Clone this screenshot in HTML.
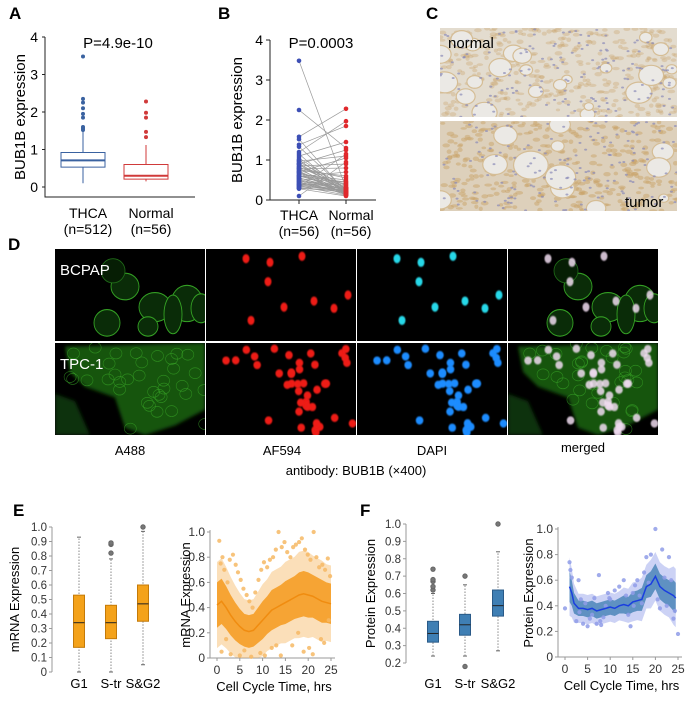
<!DOCTYPE html>
<html><head><meta charset="utf-8">
<style>
html,body{margin:0;padding:0;background:#fff;}
svg{display:block;font-family:"Liberation Sans",sans-serif;}
</style></head>
<body>
<svg id="fig" width="692" height="701" viewBox="0 0 692 701" xmlns="http://www.w3.org/2000/svg">
<defs>
<filter id="blur1"><feGaussianBlur stdDeviation="0.6"/></filter>
<filter id="blur2"><feGaussianBlur stdDeviation="1.5"/></filter>
</defs>
<g font-weight="bold" font-size="17" fill="#000">
<text x="9" y="19">A</text>
<text x="218" y="19">B</text>
<text x="426" y="19">C</text>
<text x="8" y="250">D</text>
<text x="13" y="516">E</text>
<text x="360" y="516">F</text>
</g>
<g id="panelA"></g>
<g id="panelB"></g>
<g id="panelC"></g>
<g id="panelD"></g>
<g id="panelE1"></g>
<g id="panelE2"></g>
<g id="panelF1"></g>
<g id="panelF2"></g>
</svg>
<script>
// ---------- DATA ----------
const aCategories = ["THCA", "Normal"];
const aCounts = ["(n=512)", "(n=56)"];
const aQ1 = [0.53, 0.21];
const aMedian = [0.71, 0.30];
const aQ3 = [0.92, 0.60];
const aWhiskLo = [0.10, 0.15];
const aWhiskHi = [1.48, 1.12];
const aOutTHCA = [1.52, 1.56, 1.60, 1.85, 1.95, 2.10, 2.25, 2.35, 3.48];
const aOutNormal = [1.33, 1.47, 1.85, 1.98, 2.28];
const aTicks = [0, 1, 2, 3, 4];
const bThca = [3.48,2.25,1.58,1.52,1.38,1.33,1.20,1.15,1.10,1.05,1.00,0.97,0.95,0.92,0.90,0.88,0.85,0.83,0.80,0.78,0.76,0.74,0.72,0.70,0.68,0.66,0.64,0.62,0.60,0.58,0.56,0.55,0.53,0.52,0.50,0.48,0.47,0.45,0.44,0.42,0.40,0.39,0.38,0.36,0.35,0.33,0.32,0.30,0.29,0.28,0.60,0.70,0.80,0.90,1.00,0.10];
const bNormal = [0.30,1.30,2.28,0.20,1.85,0.25,1.97,0.15,1.45,0.28,0.20,1.10,0.35,0.18,1.25,0.22,0.90,0.30,0.12,0.80,0.25,0.60,0.20,1.05,0.40,0.15,0.50,0.22,0.30,0.70,0.18,0.25,0.45,0.20,0.13,0.28,0.35,0.20,0.16,0.30,0.22,0.40,0.19,0.25,0.12,1.15,0.30,0.20,0.25,0.10,0.45,0.15,0.55,0.30,0.20,0.95];
const eCategories = ["G1", "S-tr", "S&G2"];
const eQ1 = [0.17, 0.23, 0.35];
const eMedian = [0.34, 0.34, 0.47];
const eQ3 = [0.53, 0.46, 0.60];
const eWhiskLo = [0.0, 0.0, 0.05];
const eWhiskHi = [0.93, 0.78, 0.97];
const eOutliers = [[], [0.82, 0.88, 0.89], [1.0]];
const eBoxTicks = [0,0.1,0.2,0.3,0.4,0.5,0.6,0.7,0.8,0.9,1.0];
const eTime = [0,1,2,3,4,5,6,7,8,9,10,11,12,13,14,15,16,17,18,19,20,21,22,23,24,25];
const eMean = [0.42,0.45,0.40,0.34,0.29,0.25,0.22,0.21,0.22,0.26,0.30,0.34,0.38,0.40,0.42,0.44,0.46,0.48,0.50,0.51,0.50,0.49,0.47,0.45,0.44,0.43];
const eSpread = [0.18,0.18,0.17,0.16,0.15,0.14,0.13,0.13,0.13,0.14,0.15,0.15,0.16,0.16,0.16,0.17,0.17,0.17,0.18,0.18,0.18,0.17,0.17,0.17,0.16,0.16];
const ePtsT = [0.5,0.8,1.2,1.6,2.3,2.8,3.5,4.1,4.6,5.2,5.8,6.5,7.1,7.8,8.4,9.1,9.7,10.3,11.0,11.6,12.3,12.9,13.5,14.2,14.8,15.4,16.1,16.7,17.3,18.0,18.6,19.3,19.9,20.5,21.2,21.8,22.4,23.1,23.7,24.3,24.8,1.0,3.0,5.0,7.5,9.5,12.0,14.0,16.5,19.0,21.0,23.5,2.0,6.0,10.5,13.0,17.8,20.2,22.8,24.5];
const ePtsV = [0.93,0.75,0.80,0.70,0.60,0.78,0.82,0.74,0.68,0.62,0.55,0.50,0.45,0.40,0.52,0.62,0.70,0.76,0.72,0.78,0.80,0.86,1.00,0.88,0.92,0.84,0.80,0.88,0.90,0.92,0.95,0.86,0.82,0.78,1.00,0.80,0.72,0.74,0.70,0.79,0.65,0.05,0.03,0.02,0.01,0.04,0.08,0.02,0.10,0.05,0.03,0.12,0.15,0.06,0.02,0.10,0.20,0.08,0.15,0.30];
const eScTicksY = [0, 0.2, 0.4, 0.6, 0.8, 1.0];
const eScTicksX = [0, 5, 10, 15, 20, 25];
const fCategories = ["G1", "S-tr", "S&G2"];
const fQ1 = [0.32, 0.36, 0.47];
const fMedian = [0.37, 0.42, 0.53];
const fQ3 = [0.44, 0.48, 0.62];
const fWhiskLo = [0.24, 0.24, 0.27];
const fWhiskHi = [0.60, 0.65, 0.84];
const fOutliers = [[0.62, 0.64, 0.67, 0.68, 0.74], [0.18, 0.70], [1.0]];
const fBoxTicks = [0.2,0.3,0.4,0.5,0.6,0.7,0.8,0.9,1.0];
const fTime = [1,1.5,2,3,4,5,6,7,8,9,10,11,12,13,14,15,16,17,18,19,19.5,20,21,22,23,24,24.5];
const fMean = [0.55,0.50,0.42,0.38,0.38,0.37,0.38,0.36,0.37,0.38,0.39,0.38,0.40,0.41,0.40,0.43,0.44,0.45,0.55,0.57,0.60,0.63,0.55,0.52,0.50,0.48,0.46];
const fSpread = [0.12,0.10,0.08,0.06,0.06,0.06,0.06,0.06,0.06,0.06,0.06,0.06,0.06,0.07,0.07,0.08,0.08,0.09,0.09,0.10,0.10,0.10,0.10,0.10,0.10,0.12,0.12];
const fPtsT = [0,1,1.2,1.5,2.5,3,3.5,4,4.5,5,5.5,6,6.5,7,7.5,8,8.5,9,9.5,10,11,12,13,13.5,14,14.5,15,15.5,16,16.5,17,17.5,18,18.5,19,20,20.5,21,21.5,22,22.5,23,23.5,24,24.3,25,7.8,9.8,15.2,3.2];
const fPtsV = [0.38,0.74,0.68,0.62,0.28,0.60,0.45,0.26,0.42,0.24,0.30,0.33,0.46,0.26,0.64,0.25,0.31,0.40,0.50,0.45,0.52,0.55,0.60,0.48,0.33,0.24,0.50,0.56,0.60,0.48,0.42,0.66,0.78,0.58,0.80,1.00,0.45,0.38,0.84,0.62,0.40,0.78,0.60,0.30,0.36,0.18,0.28,0.46,0.40,0.35];
const fScTicksY = [0, 0.2, 0.4, 0.6, 0.8, 1.0];
const fScTicksX = [0, 5, 10, 15, 20, 25];

// ---------- HELPERS ----------
const NS = "http://www.w3.org/2000/svg";
function mk(parent, tag, attrs) {
  const e = document.createElementNS(NS, tag);
  for (const k in attrs) e.setAttribute(k, attrs[k]);
  parent.appendChild(e);
  return e;
}
function txt(parent, x, y, s, size, anchor, extra) {
  const t = mk(parent, "text", Object.assign({x: x, y: y, "font-size": size, "text-anchor": anchor || "middle", fill: "#000"}, extra || {}));
  t.textContent = s;
  return t;
}
function fmt1(v){ return v.toFixed(1); }

// ---------- PANEL A ----------
(function(){
  const g = document.getElementById("panelA");
  const yA = v => 187 - v * 37.5;
  const xA = i => [83, 146][i];
  const ax = mk(g, "path", {d: "M45,37 V197 H195", stroke: "#222", fill: "none", "stroke-width": 1});
  
  
  aTicks.forEach(v => {
    mk(g, "line", {x1: 42, x2: 45, y1: yA(v), y2: yA(v), stroke: "#222"});
    const t = txt(g, 38, yA(v) + 5, String(v), 14, "end");
    
    
  });
  const yt = txt(g, 0, 0, "BUB1B expression", 15, "middle", {transform: "translate(25,117) rotate(-90)"});
  
  
  const p = txt(g, 118, 48, "P=4.9e-10", 15, "middle");
  
  
  const cols = ["#3a62a0", "#d03a3a"];
  const outs = [aOutTHCA, aOutNormal];
  aCategories.forEach((c, i) => {
    const x = xA(i), w = 44;
    mk(g, "line", {x1: x, x2: x, y1: yA(aWhiskLo[i]), y2: yA(aQ1[i]), stroke: cols[i]});
    mk(g, "line", {x1: x, x2: x, y1: yA(aQ3[i]), y2: yA(aWhiskHi[i]), stroke: cols[i]});
    const b = mk(g, "rect", {x: x - w/2, y: yA(aQ3[i]), width: w, height: yA(aQ1[i]) - yA(aQ3[i]), fill: "#fff", stroke: cols[i]});
    
    
    mk(g, "line", {x1: x - w/2, x2: x + w/2, y1: yA(aMedian[i]), y2: yA(aMedian[i]), stroke: cols[i], "stroke-width": 2});
    outs[i].forEach(v => {
      const o = mk(g, "circle", {cx: x, cy: yA(v), r: 2, fill: cols[i]});
      
      
    });
    const l = txt(g, x + 5, 218, c, 14, "middle");
    
    
    const n = txt(g, x + 5, 234, aCounts[i], 14, "middle");
    
    
  });
})();

// ---------- PANEL B ----------
(function(){
  const g = document.getElementById("panelB");
  const yB = v => 200 - v * 40;
  const x1 = 299, x2 = 346;
  const ax = mk(g, "path", {d: "M270,40 V200 H376", stroke: "#222", fill: "none"});
  
  
  aTicks.forEach(v => {
    mk(g, "line", {x1: 266, x2: 270, y1: yB(v), y2: yB(v), stroke: "#222"});
    const t = txt(g, 263, yB(v) + 5, String(v), 14, "end");
    
    
  });
  mk(g, "line", {x1: x1, x2: x1, y1: 200, y2: 204, stroke: "#222"});
  mk(g, "line", {x1: x2, x2: x2, y1: 200, y2: 204, stroke: "#222"});
  const yt = txt(g, 0, 0, "BUB1B expression", 15, "middle", {transform: "translate(242,120) rotate(-90)"});
  
  
  const p = txt(g, 321, 48, "P=0.0003", 15, "middle");
  
  
  bThca.forEach((v, i) => {
    const l = mk(g, "line", {x1: x1, x2: x2, y1: yB(v), y2: yB(bNormal[i]), stroke: "#999", "stroke-width": 0.7});
    
    
  });
  bThca.forEach(v => {
    const c = mk(g, "circle", {cx: x1, cy: yB(v), r: 2.3, fill: "#3d4fb5"});
    
    
  });
  bNormal.forEach(v => {
    const c = mk(g, "circle", {cx: x2, cy: yB(v), r: 2.3, fill: "#e0282c"});
    
    
  });
  [["THCA", x1], ["Normal", x2 + 5]].forEach(([s, x]) => {
    const t = txt(g, x, 220, s, 14);
    
    
  });
  [["(n=56)", x1], ["(n=56)", x2 + 5]].forEach(([s, x]) => {
    const t = txt(g, x, 236, s, 14);
    
    
  });
})();

// deterministic texture generator (decorative only)
let seed = 12345;
function rnd(){ seed = (seed * 16807) % 2147483647; return (seed - 1) / 2147483646; }

// ---------- PANEL C ----------
(function(){
  const g = document.getElementById("panelC");
  function tissue(x0, y0, w, h, name, dense, label, lx, ly) {
    const s = mk(g, "svg", {x: x0, y: y0, width: w, height: h});
    
    
    mk(s, "rect", {x: 0, y: 0, width: w, height: h, fill: dense ? "#ddd0bb" : "#e3dccf"});
    for (let i = 0; i < 380; i++) {
      const cx = rnd() * w, cy = rnd() * h;
      mk(s, "ellipse", {cx: cx, cy: cy, rx: 2 + rnd() * 2, ry: 1.3 + rnd(), fill: "#c9a46a", opacity: dense ? 0.5 : 0.35});
    }
    for (let i = 0; i < (dense ? 12 : 24); i++) {
      const cx = rnd() * w, cy = rnd() * h, r = 4 + rnd() * (dense ? 13 : 9);
      mk(s, "ellipse", {cx: cx, cy: cy, rx: r + 1.2, ry: r * 0.8 + 1.2, fill: "#d5bd95"});
      mk(s, "ellipse", {cx: cx, cy: cy, rx: r, ry: r * 0.8, fill: "#ebe9e5"});
    }
    for (let i = 0; i < 150; i++) {
      const cx = rnd() * w, cy = rnd() * h;
      mk(s, "ellipse", {cx: cx, cy: cy, rx: 1.5, ry: 1, fill: "#8a8ab8", opacity: 0.7});
    }
    const t = txt(g, lx, ly, label, 15, "start");
    
    
  }
  tissue(440, 28, 237, 89, "ihc-normal-image", false, "normal", 448, 48);
  tissue(440, 121, 237, 90, "ihc-tumor-image", true, "tumor", 625, 207);
})();

// ---------- PANEL D ----------
(function(){
  const g = document.getElementById("panelD");
  const colX = [55, 206, 357, 508];
  const rowY = [249, 343];
  const W = 150, H = 92, k = 92 / 76;
  mk(g, "rect", {x: 54, y: 248, width: 604, height: 188, fill: "#fff"});
  const nucB = [[40,8],[64,11],[62,27],[108,43],[142,38],[78,48],[45,59],[128,49],[96,6]];
  const cellsB = [[70,31,14,11],[100,48,16,12],[132,45,16,15],[118,54,9,16],[146,49,10,12],[52,61,13,11],[93,64,10,8]];
  const nucT = [];
  for (let i = 0; i < 42; i++) {
    let x = 20 + rnd() * 128, y = 4 + rnd() * 70;
    if (x < 55 && y > 25) { x += 60; }
    nucT.push([x, y]);
  }
  const chans = ["a488", "af594", "dapi", "merged"];
  rowY.forEach((ry, r) => {
    colX.forEach((cx, c) => {
      const s = mk(g, "svg", {x: cx, y: ry, width: W, height: H});
      
      
      mk(s, "rect", {x: 0, y: 0, width: W, height: H, fill: "#000"});
      const gg = mk(s, "g", {transform: "scale(1," + k + ")"});
      const green = (c === 0 || c === 3);
      if (green) {
        if (r === 0) {
          cellsB.forEach(([x, y, rx, ry2]) => {
            mk(gg, "ellipse", {cx: x, cy: y, rx: rx, ry: ry2, fill: "#0a2c08", stroke: "#34a024", "stroke-width": 0.9});
          });
          mk(gg, "ellipse", {cx: 58, cy: 18, rx: 12, ry: 10, fill: "#061e04", stroke: "#1f6a18", "stroke-width": 0.8});
        } else {
          mk(gg, "path", {d: "M10,3 L150,0 L150,55 L120,68 L90,76 L70,70 L60,45 L30,36 L15,24 Z", fill: "#165510", filter: "url(#blur2)"});
          mk(gg, "path", {d: "M0,42 L20,48 L35,76 L0,76 Z", fill: "#0c300a", filter: "url(#blur2)"});
          for (let i = 0; i < 40; i++) {
            const x = 15 + rnd() * 135, y = rnd() * 72;
            if (x < 60 && y > 36) continue;
            mk(gg, "ellipse", {cx: x, cy: y, rx: 6, ry: 4.5, fill: "none", stroke: "#3cae2a", "stroke-width": 0.6, opacity: 0.6});
          }
        }
      }
      const nuc = r === 0 ? nucB : nucT;
      if (c > 0) {
        const col = c === 1 ? "#ee1a12" : c === 2 ? (r === 0 ? "#28d8e8" : "#1e8cff") : "#f0dcf0";
        nuc.forEach(([x, y]) => {
          mk(gg, "ellipse", {cx: x, cy: y, rx: r ? 3.8 : 3.5, ry: r ? 3.4 : 3.8, fill: col, filter: "url(#blur1)", opacity: c === 3 ? 0.85 : 1});
        });
      }
    });
  });
  [["BCPAP", 60, 275], ["TPC-1", 60, 369]].forEach(([s, x, y]) => {
    const t = txt(g, x, y, s, 15, "start", {fill: "#fff"});
    
    
  });
  [["A488", 130, 455], ["AF594", 282, 455], ["DAPI", 432, 455], ["merged", 583, 452]].forEach(([s, x, y]) => {
    const t = txt(g, x, y, s, 13);
    
    
  });
  const t = txt(g, 356, 475, "antibody: BUB1B (\u00d7400)", 13);
  
  
})();

// ---------- BOX PLOT (E/F) ----------
function boxPlot(gid, axX, yTop, yBot, vTop, vBot, ticks, cats, centers, q1, med, q3, wl, wh, outs, fill, stroke, title, titleX, prefix) {
  const g = document.getElementById(gid);
  const y = v => yBot - (v - vBot) / (vTop - vBot) * (yBot - yTop);
  const ax = mk(g, "line", {x1: axX, x2: axX, y1: yTop, y2: yBot, stroke: "#999"});
  
  
  ticks.forEach(v => {
    mk(g, "line", {x1: axX - 3, x2: axX, y1: y(v), y2: y(v), stroke: "#999"});
    const t = txt(g, axX - 5, y(v) + 4, v === 0 ? "0" : fmt1(v), 11.5, "end", {fill: "#333"});
    
    
  });
  const yt = txt(g, 0, 0, title, 13, "middle", {transform: "translate(" + titleX + "," + ((yTop + yBot) / 2) + ") rotate(-90)"});
  
  
  cats.forEach((c, i) => {
    const x = centers[i], w = 11;
    mk(g, "line", {x1: x, x2: x, y1: y(wl[i]), y2: y(wh[i]), stroke: "#888", "stroke-dasharray": "1.5,1.5"});
    mk(g, "line", {x1: x - 2, x2: x + 2, y1: y(wl[i]), y2: y(wl[i]), stroke: "#666"});
    mk(g, "line", {x1: x - 2, x2: x + 2, y1: y(wh[i]), y2: y(wh[i]), stroke: "#666"});
    const b = mk(g, "rect", {x: x - w / 2, y: y(q3[i]), width: w, height: y(q1[i]) - y(q3[i]), fill: fill, stroke: stroke});
    
    
    mk(g, "line", {x1: x - w / 2, x2: x + w / 2, y1: y(med[i]), y2: y(med[i]), stroke: "#222", "stroke-width": 1});
    outs[i].forEach(v => {
      const o = mk(g, "circle", {cx: x, cy: y(v), r: 2.2, fill: "#777", stroke: "#666"});
      
      
    });
    const l = txt(g, x, 688, c, 13);
    
    
  });
}
boxPlot("panelE1", 52, 527, 672, 1.0, 0, eBoxTicks, eCategories, [79, 111, 143], eQ1, eMedian, eQ3, eWhiskLo, eWhiskHi, eOutliers, "#f4a21a", "#c47a08", "mRNA Expression", 19, "e-box");
boxPlot("panelF1", 406, 524, 663, 1.0, 0.2, fBoxTicks, fCategories, [433, 465, 498], fQ1, fMedian, fQ3, fWhiskLo, fWhiskHi, fOutliers, "#3f7fb4", "#2a5a88", "Protein Expression", 375, "f-box");

// ---------- SCATTER (E/F) ----------
function scatter(gid, axX, yTop, yBot, x0, x25, ticksY, ticksX, time, mean, spread, pT, pV, lightCol, darkCol, lineCol, title, titleX, prefix) {
  const g = document.getElementById(gid);
  const y = v => yBot - v * (yBot - yTop);
  const x = t => x0 + t / 25 * (x25 - x0);
  const ax = mk(g, "path", {d: "M" + axX + "," + (yTop - 2) + " V" + yBot + " H" + (x25 + 4), stroke: "#999", fill: "none"});
  
  
  ticksY.forEach(v => {
    mk(g, "line", {x1: axX - 3, x2: axX, y1: y(v), y2: y(v), stroke: "#999"});
    const t = txt(g, axX - 5, y(v) + 4, v === 0 ? "0" : fmt1(v), 12, "end", {fill: "#333"});
    
    
  });
  ticksX.forEach(v => {
    mk(g, "line", {x1: x(v), x2: x(v), y1: yBot, y2: yBot + 3, stroke: "#999"});
    const t = txt(g, x(v), yBot + 16, String(v), 12, "middle", {fill: "#333"});
    
    
  });
  const xt = txt(g, (x0 + x25) / 2, yBot + 33, "Cell Cycle Time, hrs", 13);
  
  
  const yt = txt(g, 0, 0, title, 13, "middle", {transform: "translate(" + titleX + "," + ((yTop + yBot) / 2) + ") rotate(-90)"});
  
  
  let up = time.map((t, i) => x(t) + "," + y(Math.min(1, mean[i] + spread[i] * 1.9)));
  let dn = time.map((t, i) => x(t) + "," + y(Math.max(0, mean[i] - spread[i] * 1.9))).reverse();
  const b1 = mk(g, "polygon", {points: up.concat(dn).join(" "), fill: lightCol, opacity: 0.45});
  
  
  up = time.map((t, i) => x(t) + "," + y(mean[i] + spread[i]));
  dn = time.map((t, i) => x(t) + "," + y(mean[i] - spread[i])).reverse();
  const b2 = mk(g, "polygon", {points: up.concat(dn).join(" "), fill: darkCol, opacity: 0.85});
  
  
  pT.forEach((t, i) => {
    const c = mk(g, "circle", {cx: x(t), cy: y(pV[i]), r: 2.1, fill: lightCol, opacity: 0.85});
    
    
  });
  const ln = mk(g, "polyline", {points: time.map((t, i) => x(t) + "," + y(mean[i])).join(" "), fill: "none", stroke: lineCol, "stroke-width": 1.5});
  
  
}
scatter("panelE2", 210, 532, 658, 217, 331, eScTicksY, eScTicksX, eTime, eMean, eSpread, ePtsT, ePtsV, "#f6b864", "#f59a1c", "#f08c10", "mRNA Expression", 190, "e-scatter");
scatter("panelF2", 558, 529, 657, 565, 678, fScTicksY, fScTicksX, fTime, fMean, fSpread, fPtsT, fPtsV, "#8f9ce8", "#4b86b8", "#1a3ee0", "Protein Expression", 533, "f-scatter");
</script>
</body></html>
